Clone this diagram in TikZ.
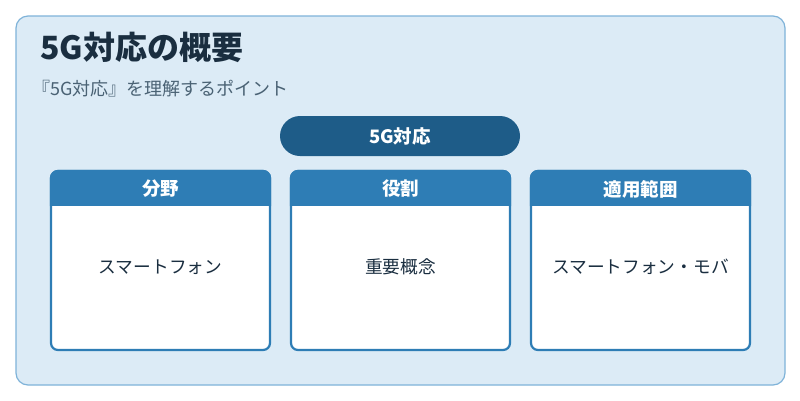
\documentclass[tikz,border=0pt]{standalone}
\usepackage{fontspec}
\setmainfont{Noto Sans CJK JP}
\definecolor{bg}{HTML}{DCEBF6}
\definecolor{frame}{HTML}{7FB3D9}
\definecolor{dark}{HTML}{1E5C88}
\definecolor{mid}{HTML}{2E7DB5}
\definecolor{ttl}{HTML}{1A2E40}
\definecolor{sub}{HTML}{4A6274}
\begin{document}
\begin{tikzpicture}[x=1pt,y=-1pt,
  card/.style={draw=mid,line width=2.2pt,rounded corners=7pt,fill=white},
  hdr/.style={font=\bfseries\fontsize{18.5}{22}\selectfont,text=white},
  body/.style={font=\fontsize{17.7}{21}\selectfont,text=ttl}]
\useasboundingbox (0,0) rectangle (800,400);
\fill[white] (0,0) rectangle (800,400);
\draw[fill=bg,draw=frame,line width=1.2pt,rounded corners=12pt] (16,16) rectangle (785,385);
\node[anchor=west,font=\bfseries\fontsize{32}{36}\selectfont,text=ttl,inner xsep=0pt] (title) at (40,47) {5G対応の概要};
\node[anchor=west,font=\fontsize{18}{21}\selectfont,text=sub,inner xsep=0pt] (subt) at (32,89) {『5G対応』を理解するポイント};
\node[fill=dark,rounded corners=20pt,minimum width=240pt,minimum height=40pt,hdr] (pill) at (400,136) {5G対応};
\foreach \x/\h/\b/\n in {51/分野/スマートフォン/a,291/役割/重要概念/b,531/適用範囲/スマートフォン・モバ/c}{
  \draw[card] (\x,171) rectangle ++(219,179);
  \begin{scope}
    \clip[rounded corners=7pt] (\x,171) rectangle ++(219,179);
    \fill[mid] (\x,171) rectangle ++(219,35);
  \end{scope}
  \draw[mid,line width=2.2pt,rounded corners=7pt] (\x,206) -- (\x,171) -- ++(219,0) -- ++(0,35);
  \node[hdr] (h\n) at (\x+109.5,189) {\h};
  \node[body] (t\n) at (\x+109.5,267) {\b};
}
\end{tikzpicture}
\end{document}
